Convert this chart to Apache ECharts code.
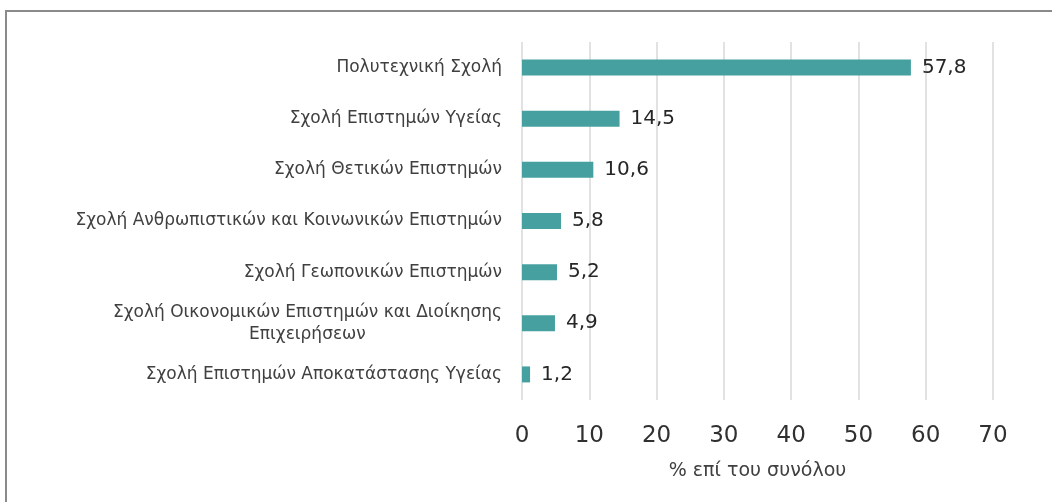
<!DOCTYPE html>
<html>
<head>
<meta charset="utf-8">
<script src="https://cdn.jsdelivr.net/npm/echarts@6/dist/echarts.min.js"></script>
<style>
  html, body { margin: 0; padding: 0; background: #fff; }
  #main { width: 1052px; height: 502px; }
</style>
</head>
<body>
<div id="main"></div>
<script>
// categories listed top to bottom
const categories = [
    'Πολυτεχνική Σχολή',
    'Σχολή Επιστημών Υγείας',
    'Σχολή Θετικών Επιστημών',
    'Σχολή Ανθρωπιστικών και Κοινωνικών Επιστημών',
    'Σχολή Γεωπονικών Επιστημών',
    'Σχολή Οικονομικών Επιστημών και Διοίκησης\nΕπιχειρήσεων',
    'Σχολή Επιστημών Αποκατάστασης Υγείας'
];
const values = [57.8, 14.5, 10.6, 5.8, 5.2, 4.9, 1.2];
const axisName = '% επί του συνόλου';

const myChart = echarts.init(document.getElementById('main'));

const option = {
    animation: false,
    textStyle: { fontFamily: '"DejaVu Sans", sans-serif' },
    graphic: [{
        type: 'rect',
        shape: { x: 6, y: 11, width: 1200, height: 700 },
        style: { fill: 'none', stroke: '#8a8a8a', lineWidth: 2 },
        silent: true
    }],
    grid: { left: 522, right: 59, top: 42, bottom: 102 },
    xAxis: {
        type: 'value',
        min: 0,
        max: 70,
        interval: 10,
        name: axisName,
        nameLocation: 'middle',
        nameGap: 62,
        nameTextStyle: { fontSize: 19, color: '#404040' },
        axisLine: { show: false },
        axisTick: { show: false },
        axisLabel: { fontSize: 23, color: '#303030', margin: 25 },
        splitLine: { show: true, lineStyle: { color: '#d9d9d9', width: 1.5 } }
    },
    yAxis: {
        type: 'category',
        data: categories,
        inverse: true,
        axisLine: { show: false },
        axisTick: { show: false },
        axisLabel: {
            fontSize: 17,
            color: '#404040',
            margin: 20,
            align: 'right',
            lineHeight: 22,
            formatter: function (v) {
                if (v.indexOf('\n') < 0) return v;
                const parts = v.split('\n');
                return '{a|' + parts[0] + '}\n{b|' + parts[1] + '}';
            },
            rich: {
                a: { fontSize: 17, color: '#404040', align: 'right', lineHeight: 22 },
                b: { fontSize: 17, color: '#404040', align: 'center', lineHeight: 22 }
            }
        }
    },
    series: [{
        type: 'bar',
        data: values,
        barWidth: 16,
        itemStyle: { color: '#46a0a0' },
        label: {
            show: true,
            position: 'right',
            distance: 11,
            fontSize: 20,
            color: '#262626',
            formatter: function (p) {
                return p.value.toFixed(1).replace('.', ',');
            }
        }
    }]
};

myChart.setOption(option);
</script>
</body>
</html>
